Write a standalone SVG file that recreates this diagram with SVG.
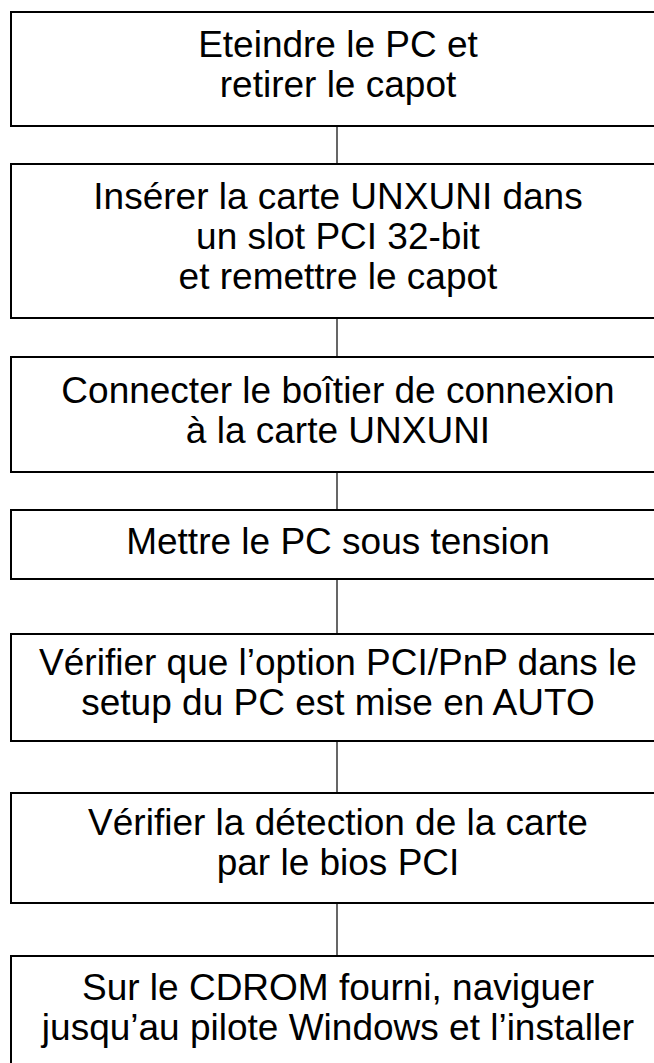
<svg xmlns="http://www.w3.org/2000/svg" width="654" height="1063" viewBox="0 0 654 1063">
<style>
.box{fill:#fff;stroke:#000;stroke-width:2}
.con{stroke:#000;stroke-width:1.2;fill:none}
.t{font-family:"Liberation Sans",Arial,sans-serif;font-size:37px;fill:#000;text-anchor:middle}
</style>
<rect width="654" height="1063" fill="#fff"/>
<g id="connectors">
<line class="con" x1="337" y1="126" x2="337" y2="164"/>
<line class="con" x1="337" y1="318" x2="337" y2="357"/>
<line class="con" x1="337" y1="472" x2="337" y2="510"/>
<line class="con" x1="337" y1="579" x2="337" y2="634"/>
<line class="con" x1="337" y1="741" x2="337" y2="793"/>
<line class="con" x1="337" y1="903" x2="337" y2="956"/>
</g>
<g id="n1">
<rect class="box" x="11" y="12" width="660" height="114"/>
<text class="t" x="338" y="57">Eteindre le PC et</text>
<text class="t" x="338" y="97">retirer le capot</text>
</g>
<g id="n2">
<rect class="box" x="11" y="164" width="660" height="154"/>
<text class="t" x="338" y="209">Insérer la carte UNXUNI dans</text>
<text class="t" x="338" y="249">un slot PCI 32-bit</text>
<text class="t" x="338" y="289">et remettre le capot</text>
</g>
<g id="n3">
<rect class="box" x="11" y="357" width="660" height="115"/>
<text class="t" x="338" y="403">Connecter le boîtier de connexion</text>
<text class="t" x="338" y="443">à la carte UNXUNI</text>
</g>
<g id="n4">
<rect class="box" x="11" y="510" width="660" height="69"/>
<text class="t" x="338" y="554">Mettre le PC sous tension</text>
</g>
<g id="n5">
<rect class="box" x="11" y="634" width="660" height="107"/>
<text class="t" x="338" y="675">Vérifier que l’option PCI/PnP dans le</text>
<text class="t" x="338" y="715">setup du PC est mise en AUTO</text>
</g>
<g id="n6">
<rect class="box" x="11" y="793" width="660" height="110"/>
<text class="t" x="338" y="835">Vérifier la détection de la carte</text>
<text class="t" x="338" y="875">par le bios PCI</text>
</g>
<g id="n7">
<rect class="box" x="11" y="956" width="660" height="120"/>
<text class="t" x="338" y="1000">Sur le CDROM fourni, naviguer</text>
<text class="t" x="338" y="1040">jusqu’au pilote Windows et l’installer</text>
</g>
</svg>
